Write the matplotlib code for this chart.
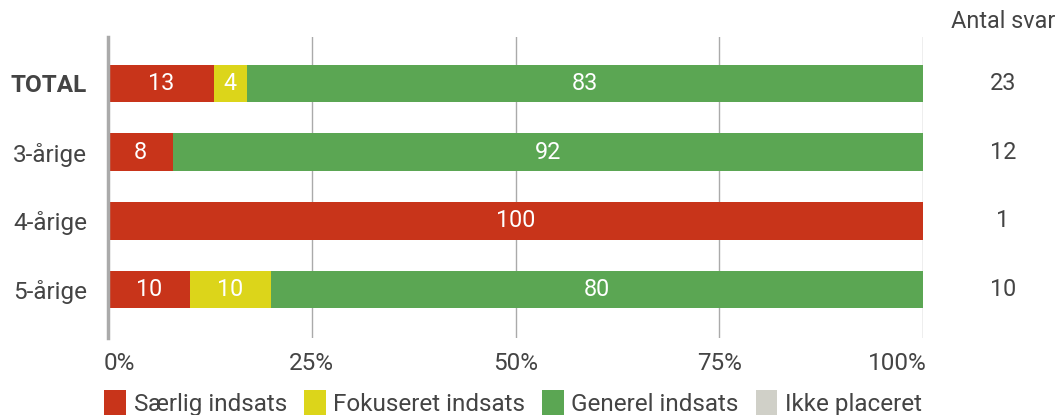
import matplotlib
matplotlib.use("Agg")
import matplotlib.pyplot as plt
from matplotlib.patches import Patch
from matplotlib.transforms import ScaledTranslation
import numpy as np

plt.rcParams["font.family"] = ["Roboto", "DejaVu Sans"]

categories = ["TOTAL", "3-årige", "4-årige", "5-årige"]
series_names = ["Særlig indsats", "Fokuseret indsats", "Generel indsats", "Ikke placeret"]
saerlig = [13, 8, 100, 10]
fokuseret = [4, 0, 0, 10]
generel = [83, 92, 0, 80]
ikke = [0, 0, 0, 0]
antal_svar = [23, 12, 1, 10]
colors = ["#C8341A", "#DCD51A", "#5BA653", "#D0D0C8"]

FS = 16.8
FS_TICK = 17.5
TXT = "#444444"

fig = plt.figure(figsize=(10.59, 4.15), dpi=100)
ax = fig.add_axes([0.102, 0.1855, 0.7696, 0.7253])

y = np.arange(len(categories))
left = np.zeros(len(categories))
for name, vals, col in zip(series_names, [saerlig, fokuseret, generel, ikke], colors):
    vals = np.array(vals, dtype=float)
    ax.barh(y, vals, left=left, height=0.54, color=col, label=name, zorder=3)
    for yi, l, v in zip(y, left, vals):
        if v > 0:
            ax.text(l + v / 2, yi, f"{v:g}", ha="center", va="center",
                    color="white", fontsize=FS, zorder=4)
    left += vals

ax.set_xlim(0, 100)
ax.set_ylim(3.7, -0.67)
ax.set_xticks([0, 25, 50, 75, 100])
ax.set_xticklabels(["0%", "25%", "50%", "75%", "100%"])
ax.set_yticks(y)
ax.set_yticklabels(categories)
ax.get_yticklabels()[0].set_fontweight("bold")
ax.tick_params(axis="both", length=0, labelsize=FS_TICK, labelcolor=TXT)
ax.tick_params(axis="x", pad=10)
ax.tick_params(axis="y", pad=15)

# first / last x labels are kept inside the plot width
xl = ax.get_xticklabels()
xl[0].set_horizontalalignment("left")
xl[0].set_transform(xl[0].get_transform() + ScaledTranslation(-4 / 100, 0, fig.dpi_scale_trans))
xl[-1].set_horizontalalignment("right")
xl[-1].set_transform(xl[-1].get_transform() + ScaledTranslation(4 / 100, 0, fig.dpi_scale_trans))

ax.xaxis.grid(True, color="#AAAAAA", linewidth=1, zorder=0)
for s in ["top", "right", "bottom"]:
    ax.spines[s].set_visible(False)
ax.spines["left"].set_color("#AAAAAA")
ax.spines["left"].set_linewidth(2.5)
ax.spines["left"].set_zorder(5)

# Antal svar column
fig.text(1003 / 1059, 1 - 22 / 415, "Antal svar", ha="center", va="center",
         fontsize=FS, color=TXT)
for yi, n in zip(y, antal_svar):
    ax.text(1.098, yi, str(n), transform=ax.get_yaxis_transform(), ha="center",
            va="center", fontsize=FS, color=TXT)

handles = [Patch(facecolor=c, label=n) for c, n in zip(colors, series_names)]
fig.legend(handles=handles, loc="center", bbox_to_anchor=(513 / 1059, 1 - 403 / 415),
           ncol=4, frameon=False, fontsize=FS_TICK, handlelength=0.9, handleheight=1.2,
           handletextpad=0.3, columnspacing=0.7, labelcolor=TXT)

fig.savefig("out.png", dpi=100)
